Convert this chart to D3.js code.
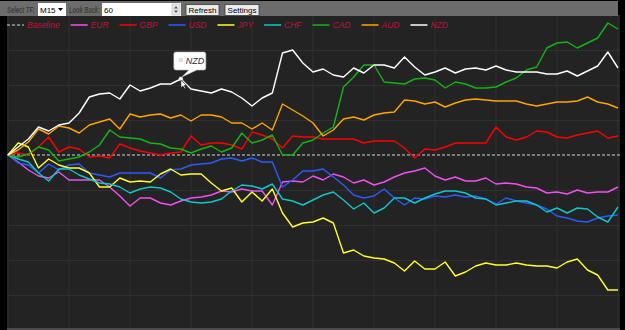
<!DOCTYPE html>
<html>
<head>
<meta charset="utf-8">
<script src="https://cdn.jsdelivr.net/npm/d3@7"></script>
<style>
  body { margin: 0; background: #000; }
  svg { display: block; font-family: "Liberation Sans", Arial, sans-serif; }
</style>
</head>
<body>
<div class="grafico"></div>
<script>
var width = 625, height = 330;

// currency strength, 60 bars of M15, relative to the first bar
var steps = d3.range(0, 61);
var names = ["EUR", "GBP", "USD", "JPY", "CHF", "CAD", "AUD", "NZD"];
var colors = ["#f050f0", "#ff0000", "#2a5cff", "#ffff30", "#10c8c8", "#14b414", "#ffa500", "#ffffff"];

var eur = [0,-7,-15,-21,-23,-17,-25,-25,-25,-25,-32,-41,-51,-43,-43,-48,-50,-46,-43,-42,-40,-36,-37,-34,-36,-36,-50,-27,-26,-27,-21,-25,-19,-22,-28,-25,-30,-27,-22,-18,-16,-13,-21,-25,-22,-26,-26,-23,-29,-28,-29,-32,-33,-38,-37,-39,-35,-38,-37,-37,-32];
var gbp = [0,2,0,8,18,3,8,6,-2,-1,-3,11,7,4,2,0,2,3,19,10,12,12,10,6,23,20,16,7,19,18,18,16,16,16,16,12,14,14,14,7,-3,6,5,8,12,12,12,12,28,18,15,18,24,23,18,17,20,22,24,17,19];
var usd = [0,-8,-10,-18,-9,-15,-10,-9,-18,-20,-22,-18,-18,-18,-18,-23,-15,-14,-10,-9,-8,-4,-3,-6,-3,-7,-7,-32,-25,-16,-16,-14,-22,-30,-40,-43,-41,-34,-43,-50,-43,-44,-41,-42,-40,-42,-41,-44,-49,-43,-46,-48,-50,-54,-61,-63,-66,-67,-63,-61,-60];
var jpy = [0,12,8,-13,-4,-10,-13,-13,-18,-32,-32,-23,-27,-26,-27,-19,-14,-20,-19,-19,-28,-36,-33,-47,-37,-46,-34,-58,-72,-68,-67,-63,-68,-98,-95,-101,-103,-104,-108,-116,-106,-114,-114,-107,-121,-117,-111,-108,-110,-110,-108,-110,-111,-111,-113,-107,-104,-115,-120,-135,-135];
var chf = [0,-4,-7,-18,-26,-14,-14,-20,-24,-28,-29,-32,-38,-34,-32,-33,-37,-44,-47,-48,-47,-44,-36,-30,-31,-34,-29,-44,-46,-50,-45,-40,-37,-45,-54,-48,-58,-53,-43,-43,-48,-43,-39,-36,-36,-38,-43,-44,-50,-48,-46,-46,-50,-57,-53,-58,-53,-54,-62,-67,-52];
var cad = [0,-2,1,8,5,-6,-4,-2,3,10,25,18,17,16,12,11,7,6,2,6,9,3,7,22,12,15,20,0,0,12,15,22,28,68,78,90,90,73,72,71,76,77,75,67,73,71,67,67,68,73,77,85,88,107,112,113,107,112,117,132,126];
var aud = [0,5,13,26,21,29,27,22,30,33,36,26,41,38,40,41,37,40,34,40,40,38,32,32,26,32,25,51,45,39,32,19,25,36,38,35,40,42,43,55,54,51,53,48,52,55,56,55,54,54,54,51,49,51,53,53,54,58,53,51,47];
var nzd = [0,8,16,28,24,30,32,42,58,61,62,56,70,64,67,71,71,76,66,64,62,66,63,57,49,57,62,102,105,92,83,86,80,78,87,82,90,90,87,98,88,80,83,87,82,86,87,85,89,85,83,83,83,81,81,84,79,84,89,103,87];

var values = [eur, gbp, usd, jpy, chf, cad, aud, nzd];
var hoverIndex = 17; // tooltip sits on NZD at this bar

var svg = d3.select(".grafico").append("svg")
  .attr("width", width)
  .attr("height", height);

svg.append("rect").attr("width", width).attr("height", height).attr("fill", "#000");

// plot area
var x = d3.scaleLinear().domain([0, 60]).range([8, 618]);
var y = d3.scaleLinear().domain([-175, 140]).range([330, 15]);

svg.append("rect")
  .attr("x", 7).attr("y", 16)
  .attr("width", 613).attr("height", 312)
  .attr("fill", "#232323");

// grid
svg.append("g").selectAll("line")
  .data(d3.range(0, 61, 6))
  .enter().append("line")
  .attr("x1", d => x(d)).attr("x2", d => x(d))
  .attr("y1", 16).attr("y2", 328)
  .attr("stroke", "#303030")
  .attr("stroke-width", 1);

svg.append("g").selectAll("line")
  .data(d3.range(-140, 141, 35).filter(d => d != 0))
  .enter().append("line")
  .attr("x1", 7).attr("x2", 620)
  .attr("y1", d => Math.round(y(d)) + 0.5).attr("y2", d => Math.round(y(d)) + 0.5)
  .attr("stroke", "#303030")
  .attr("stroke-width", 1);

// baseline
svg.append("line")
  .attr("x1", 7).attr("x2", 620)
  .attr("y1", y(0)).attr("y2", y(0))
  .attr("stroke", "#9a9a9a")
  .attr("stroke-width", 1.5)
  .attr("stroke-dasharray", "3,2");

// lines
var line = d3.line()
  .x((d, i) => x(steps[i]))
  .y(d => y(d));

svg.append("g").selectAll("path")
  .data(values)
  .enter().append("path")
  .attr("d", line)
  .attr("fill", "none")
  .attr("stroke", (d, i) => colors[i])
  .attr("stroke-width", 1.4)
  .attr("stroke-linejoin", "round");

// bottom edge
svg.append("rect").attr("x", 7).attr("y", 328).attr("width", 613).attr("height", 2).attr("fill", "#4a4a4a");

// legend
var legend = svg.append("g").attr("transform", "translate(7,25)");
var legendItems = [{name: "Baseline", color: "#9a9a9a", dash: "3,2"}]
  .concat(names.map((n, i) => ({name: n, color: colors[i], dash: null})));

var lx = 0;
legendItems.forEach(function (d) {
  legend.append("line")
    .attr("x1", lx).attr("x2", lx + 17)
    .attr("y1", 0).attr("y2", 0)
    .attr("stroke", d.color)
    .attr("stroke-width", 1.5)
    .attr("stroke-dasharray", d.dash);
  var t = legend.append("text")
    .attr("x", lx + 20)
    .attr("y", 3)
    .attr("font-size", 8.5)
    .attr("font-style", "italic")
    .attr("fill", "#c0103c")
    .text(d.name);
  lx += 20 + t.node().getComputedTextLength() + 11;
});

// tooltip on NZD
var tx = x(hoverIndex), ty = y(nzd[hoverIndex]);
var tip = svg.append("g").attr("transform", "translate(" + tx + "," + ty + ")");
tip.append("path")
  .attr("d", "M-5,-27 h28 a2,2 0 0 1 2,2 v14 a2,2 0 0 1 -2,2 h-7 L1,-2 L8,-9 h-13 a2,2 0 0 1 -2,-2 v-14 a2,2 0 0 1 2,-2 z")
  .attr("fill", "#ffffff")
  .attr("stroke", "#bbbbbb")
  .attr("stroke-width", 0.6);
tip.append("rect").attr("x", -2).attr("y", -21).attr("width", 4).attr("height", 4).attr("fill", "#dddddd");
tip.append("text")
  .attr("x", 5).attr("y", -15)
  .attr("font-size", 9)
  .attr("font-style", "italic")
  .attr("fill", "#1a2a4a")
  .text("NZD");
tip.append("circle").attr("r", 2.2).attr("fill", "#ffffff").attr("stroke", "#888").attr("stroke-width", 0.5);
// mouse pointer
tip.append("path")
  .attr("d", "M0,1 L0,9 L2,7 L4,10 L5,9.5 L3.5,6.5 L6,6.5 Z")
  .attr("fill", "#ffffff")
  .attr("stroke", "#000")
  .attr("stroke-width", 0.6);

// toolbar
var bar = svg.append("g");
bar.append("rect").attr("x", 0).attr("y", 1).attr("width", 618).attr("height", 15).attr("fill", "#6c6c6c");

// narrow italic labels, squeezed to the width they take in the toolbar
function barLabel(label, lx, w) {
  var g = bar.append("g");
  var t = g.append("text")
    .attr("font-size", 8.5).attr("font-style", "italic").attr("font-weight", "bold")
    .attr("fill", "#3e3e3e")
    .text(label);
  var k = w / t.node().getComputedTextLength();
  g.attr("transform", "translate(" + lx + ",12.5) scale(" + k + ",1)");
}
barLabel("Select TF:", 7, 28);
barLabel("Look Back:", 69, 31);

bar.append("rect").attr("x", 38).attr("y", 3).attr("width", 28).attr("height", 13).attr("fill", "#ffffff");
bar.append("text").attr("x", 40).attr("y", 12.5).attr("font-size", 8).attr("fill", "#000").text("M15");
bar.append("path").attr("d", "M58,8 h5 l-2.5,3 z").attr("fill", "#000");

bar.append("rect").attr("x", 102).attr("y", 3).attr("width", 79).attr("height", 13).attr("fill", "#ffffff");
bar.append("text").attr("x", 104).attr("y", 12.5).attr("font-size", 8).attr("fill", "#000").text("60");
bar.append("rect").attr("x", 172).attr("y", 4).attr("width", 8).attr("height", 11).attr("fill", "#e6e6e6").attr("stroke", "#aaa").attr("stroke-width", 0.5);
bar.append("path").attr("d", "M174,8.5 h4 l-2,-2.5 z M174,10.5 h4 l-2,2.5 z").attr("fill", "#555");

[{label: "Refresh", x: 186, w: 33}, {label: "Settings", x: 225, w: 34}].forEach(function (b) {
  bar.append("rect")
    .attr("x", b.x).attr("y", 4.5).attr("width", b.w).attr("height", 11)
    .attr("fill", "#ececec").attr("stroke", "#3a3a3a").attr("stroke-width", 0.8);
  bar.append("text")
    .attr("x", b.x + b.w / 2).attr("y", 12.8)
    .attr("text-anchor", "middle")
    .attr("font-size", 8)
    .attr("fill", "#000")
    .text(b.label);
});
</script>
</body>
</html>
